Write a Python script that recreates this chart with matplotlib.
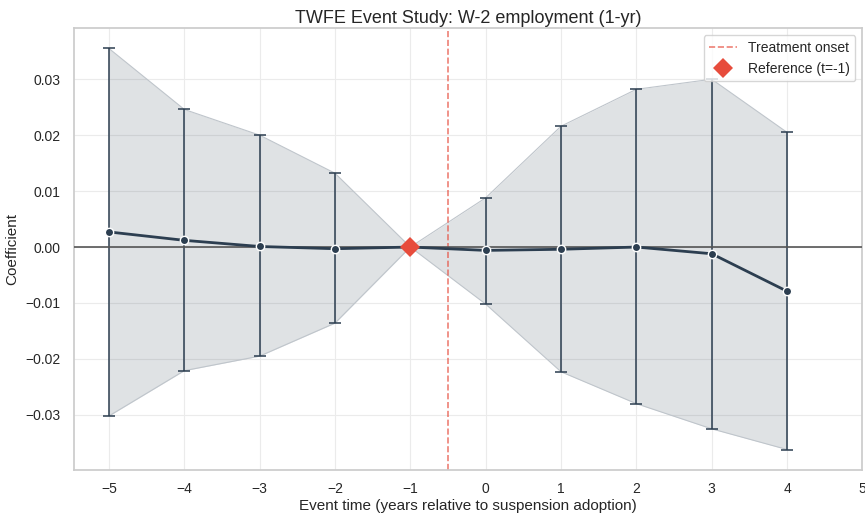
import numpy as np
import matplotlib
matplotlib.use("Agg")
import matplotlib.pyplot as plt
import seaborn as sns

# event study estimates
event_time = [-5, -4, -3, -2, -1, 0, 1, 2, 3, 4]
coef = [0.0027, 0.0012, 0.0001, -0.0003, 0.0, -0.0006, -0.0004, 0.0000, -0.0012, -0.0079]
ci_low = [-0.0302, -0.0221, -0.0195, -0.0136, 0.0, -0.0102, -0.0223, -0.0280, -0.0325, -0.0362]
ci_high = [0.0355, 0.0246, 0.0200, 0.0132, 0.0, 0.0088, 0.0216, 0.0282, 0.0300, 0.0205]
ref_time = -1
onset = -0.5

sns.set_theme(style="whitegrid")
plt.rcParams['font.family'] = ['Arial', 'Liberation Sans', 'DejaVu Sans']

fig, ax = plt.subplots(figsize=(8.65, 5.15), dpi=100)

x = np.array(event_time)
b = np.array(coef)
lo = np.array(ci_low)
hi = np.array(ci_high)

# confidence band
ax.fill_between(x, lo, hi, color='#2c3e50', alpha=0.15, linewidth=0)
ax.plot(x, lo, color='#bfc5cb', linewidth=0.8)
ax.plot(x, hi, color='#bfc5cb', linewidth=0.8)

# error bars, skipping the reference period
m = x != ref_time
ax.errorbar(x[m], b[m], yerr=[b[m] - lo[m], hi[m] - b[m]], fmt='none',
            ecolor='#2c3e50', elinewidth=1.3, capsize=4, capthick=1.3, alpha=0.85)

# point estimates
ax.plot(x, b, color='#2c3e50', linewidth=2, marker='o', markersize=6,
        markeredgecolor='white', markeredgewidth=1, zorder=4)

ax.axhline(0, color='#555555', linewidth=1.2, zorder=3)
ax.axvline(onset, color='#e74c3c', linestyle='--', linewidth=1.2, alpha=0.7,
           label='Treatment onset')
ax.plot([ref_time], [0], linestyle='none', marker='D', markersize=10, color='#e74c3c',
        markeredgewidth=0, zorder=5, label='Reference (t=-1)')

ax.set_xlim(-5.47, 5.0)
ax.set_ylim(-0.0398, 0.0391)
ax.set_xticks(range(-5, 6))
ax.set_yticks([-0.03, -0.02, -0.01, 0.0, 0.01, 0.02, 0.03])
ax.yaxis.set_major_formatter(
    matplotlib.ticker.FuncFormatter(lambda v, p: f"{v:.2f}".replace('-', '\u2212')))
ax.tick_params(labelsize=10)
ax.tick_params(axis='x', pad=3)

ax.set_xlabel('Event time (years relative to suspension adoption)', fontsize=11, labelpad=2)
ax.set_ylabel('Coefficient', fontsize=11)
ax.set_title('TWFE Event Study: W-2 employment (1-yr)', fontsize=13, pad=4)
ax.grid(True, color='#ebebeb', linewidth=0.8)
ax.legend(loc='upper right', fontsize=10, frameon=True)

fig.subplots_adjust(left=0.085, right=0.997, top=0.945, bottom=0.088)
fig.savefig('out.png', dpi=100)
